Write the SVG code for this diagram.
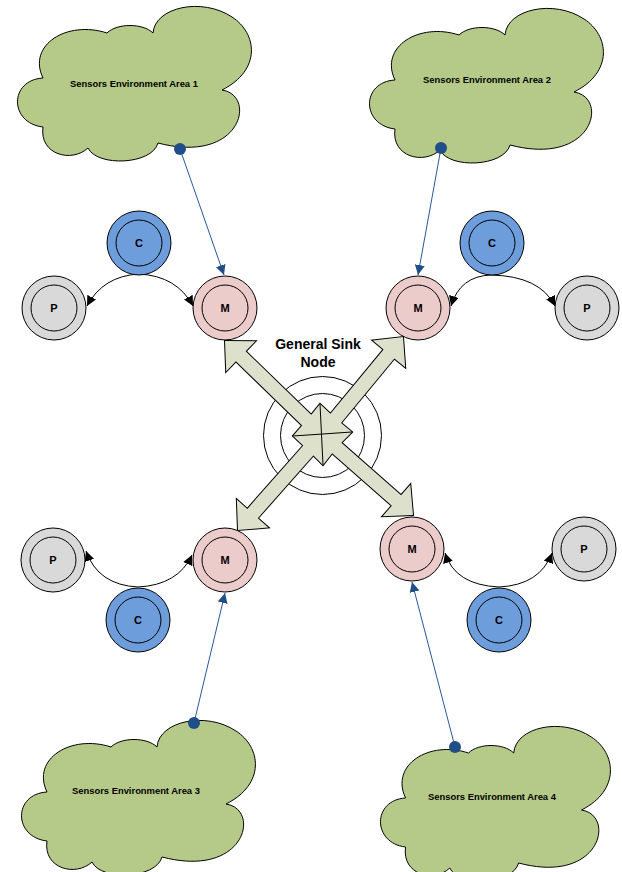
<svg xmlns="http://www.w3.org/2000/svg" width="622" height="872" viewBox="0 0 622 872">
<style>
.cloud{fill:#b5ca88;stroke:#000;stroke-width:1}
.ring{fill:none;stroke:#000;stroke-width:1}
.m{fill:#ecccca;stroke:#000;stroke-width:1}
.p{fill:#d9d9d9;stroke:#000;stroke-width:1}
.c{fill:#6d9edb;stroke:#000;stroke-width:1}
.inner{fill:none;stroke:#000;stroke-width:1}
.lbl{font-family:"Liberation Sans",Arial,sans-serif;font-weight:bold;font-size:11px;text-anchor:middle;fill:#000}
.ctext{font-family:"Liberation Sans",Arial,sans-serif;font-weight:bold;font-size:9.4px;text-anchor:middle;fill:#000}
.sinktext{font-family:"Liberation Sans",Arial,sans-serif;font-weight:bold;font-size:14px;text-anchor:middle;fill:#000}
.curve{fill:none;stroke:#000;stroke-width:1;marker-end:url(#blk)}
.blue{fill:none;stroke:#2b5797;stroke-width:1;marker-end:url(#blu)}
.dot{fill:#1f4e89}
.outl{fill:#dde1cb;stroke:#000;stroke-width:2;stroke-linejoin:miter}
.fillonly{fill:#dde1cb;stroke:none}
.xline{stroke:#000;stroke-width:1}
</style>
<defs>
<marker id="blk" markerUnits="userSpaceOnUse" markerWidth="10" markerHeight="10" refX="10" refY="5" orient="auto"><path d="M0,0 L10,5 L0,10 Z" fill="#000"/></marker>
<marker id="blu" markerUnits="userSpaceOnUse" markerWidth="10" markerHeight="10" refX="10" refY="5" orient="auto"><path d="M0,0 L10,5 L0,10 Z" fill="#1f4e89"/></marker>
<path id="cloudShape" d="M26,73 C10,40 50,15 90,28 C100,18 126,18 136,28 C138,2 185,-8 215,12 C240,28 245,65 205,85 C240,90 225,160 141,138 C135,160 80,162 71,143 C55,158 22,150 26,122 C-8,118 -8,75 26,73 Z"/>
<polygon id="arA" points="326.87,429.97 245.67,351.28 255.41,341.23 225,341 226.19,371.39 235.93,361.34 317.13,440.03"/>
<polygon id="arB" points="327.40,439.46 394.38,358.42 405.17,367.34 403,337 372.79,340.58 383.58,349.50 316.60,430.54"/>
<polygon id="arC" points="316.76,430.36 247.33,508.88 236.84,499.61 238,530 268.30,527.43 257.81,518.16 327.24,439.64"/>
<polygon id="arD" points="317.38,440.26 391.86,505.74 382.62,516.25 413,515 410.34,484.71 401.10,495.22 326.62,429.74"/>
<polygon id="star" points="320,404 335,418 352,432 337,447 323,465 308,450 293,436 307,420"/>
</defs>

<g id="area1"><use href="#cloudShape" class="cloud" transform="translate(17,5)"/><text class="ctext" x="134" y="86.5">Sensors Environment Area 1</text></g>
<g id="area2"><use href="#cloudShape" class="cloud" transform="translate(369,7)"/><text class="ctext" x="487" y="82.5">Sensors Environment Area 2</text></g>
<g id="area3"><use href="#cloudShape" class="cloud" transform="translate(21,719)"/><text class="ctext" x="136" y="793.5">Sensors Environment Area 3</text></g>
<g id="area4"><use href="#cloudShape" class="cloud" transform="translate(380,725) scale(0.983,1)"/><text class="ctext" x="492" y="799.5">Sensors Environment Area 4</text></g>

<g id="sink">
<circle class="ring" cx="322.5" cy="435.5" r="59"/>
<circle class="ring" cx="322.5" cy="435.5" r="42"/>
<text class="sinktext" x="318" y="349">General Sink</text>
<text class="sinktext" x="318" y="367">Node</text>
</g>

<g id="connectors">
<g id="sink-arrows">
<use href="#arA" class="outl"/><use href="#arB" class="outl"/><use href="#arC" class="outl"/><use href="#arD" class="outl"/><use href="#star" class="outl"/>
<use href="#arA" class="fillonly"/><use href="#arB" class="fillonly"/><use href="#arC" class="fillonly"/><use href="#arD" class="fillonly"/><use href="#star" class="fillonly"/>
<line class="xline" x1="320" y1="404" x2="323" y2="465"/>
<line class="xline" x1="293" y1="436" x2="352" y2="432"/>
</g>
<path class="curve" d="M139,274 Q103,276 87,306"/>
<path class="curve" d="M139,274 Q177,276 193,306"/>
<path class="curve" d="M491,275 Q460,276 451,306"/>
<path class="curve" d="M491,275 Q540,276 555,306"/>
<path class="curve" d="M138,587 Q98,585 86,551"/>
<path class="curve" d="M138,587 Q178,585 192,555"/>
<path class="curve" d="M499,587 Q455,585 445,553"/>
<path class="curve" d="M499,587 Q540,585 552,553"/>
<path class="blue" d="M180,149 L224,275"/>
<path class="blue" d="M441,148 L418,275"/>
<path class="blue" d="M194,723 L225,593"/>
<path class="blue" d="M455,747 L412,582"/>
<circle class="dot" cx="180" cy="149" r="6"/>
<circle class="dot" cx="441" cy="148" r="6"/>
<circle class="dot" cx="194" cy="723" r="6"/>
<circle class="dot" cx="455" cy="747" r="6"/>
</g>

<g id="c1"><circle class="c" cx="139" cy="243" r="32"/><circle class="inner" cx="139" cy="243" r="23"/><text class="lbl" x="139" y="247">C</text></g>
<g id="p1"><circle class="p" cx="54" cy="308" r="32"/><circle class="inner" cx="54" cy="308" r="23"/><text class="lbl" x="54" y="312">P</text></g>
<g id="m1"><circle class="m" cx="225" cy="308" r="32"/><circle class="inner" cx="225" cy="308" r="23"/><text class="lbl" x="225" y="312">M</text></g>

<g id="c2"><circle class="c" cx="492" cy="243" r="32"/><circle class="inner" cx="492" cy="243" r="23"/><text class="lbl" x="492" y="247">C</text></g>
<g id="m2"><circle class="m" cx="418" cy="308" r="32"/><circle class="inner" cx="418" cy="308" r="23"/><text class="lbl" x="418" y="312">M</text></g>
<g id="p2"><circle class="p" cx="587" cy="308" r="32"/><circle class="inner" cx="587" cy="308" r="23"/><text class="lbl" x="587" y="312">P</text></g>

<g id="p3"><circle class="p" cx="53" cy="560" r="32"/><circle class="inner" cx="53" cy="560" r="23"/><text class="lbl" x="53" y="564">P</text></g>
<g id="m3"><circle class="m" cx="225" cy="560" r="32"/><circle class="inner" cx="225" cy="560" r="23"/><text class="lbl" x="225" y="564">M</text></g>
<g id="c3"><circle class="c" cx="138" cy="620" r="32"/><circle class="inner" cx="138" cy="620" r="23"/><text class="lbl" x="138" y="624">C</text></g>

<g id="m4"><circle class="m" cx="412" cy="549" r="32"/><circle class="inner" cx="412" cy="549" r="23"/><text class="lbl" x="412" y="553">M</text></g>
<g id="p4"><circle class="p" cx="584" cy="549" r="32"/><circle class="inner" cx="584" cy="549" r="23"/><text class="lbl" x="584" y="553">P</text></g>
<g id="c4"><circle class="c" cx="499" cy="620" r="32"/><circle class="inner" cx="499" cy="620" r="23"/><text class="lbl" x="499" y="624">C</text></g>
</svg>
